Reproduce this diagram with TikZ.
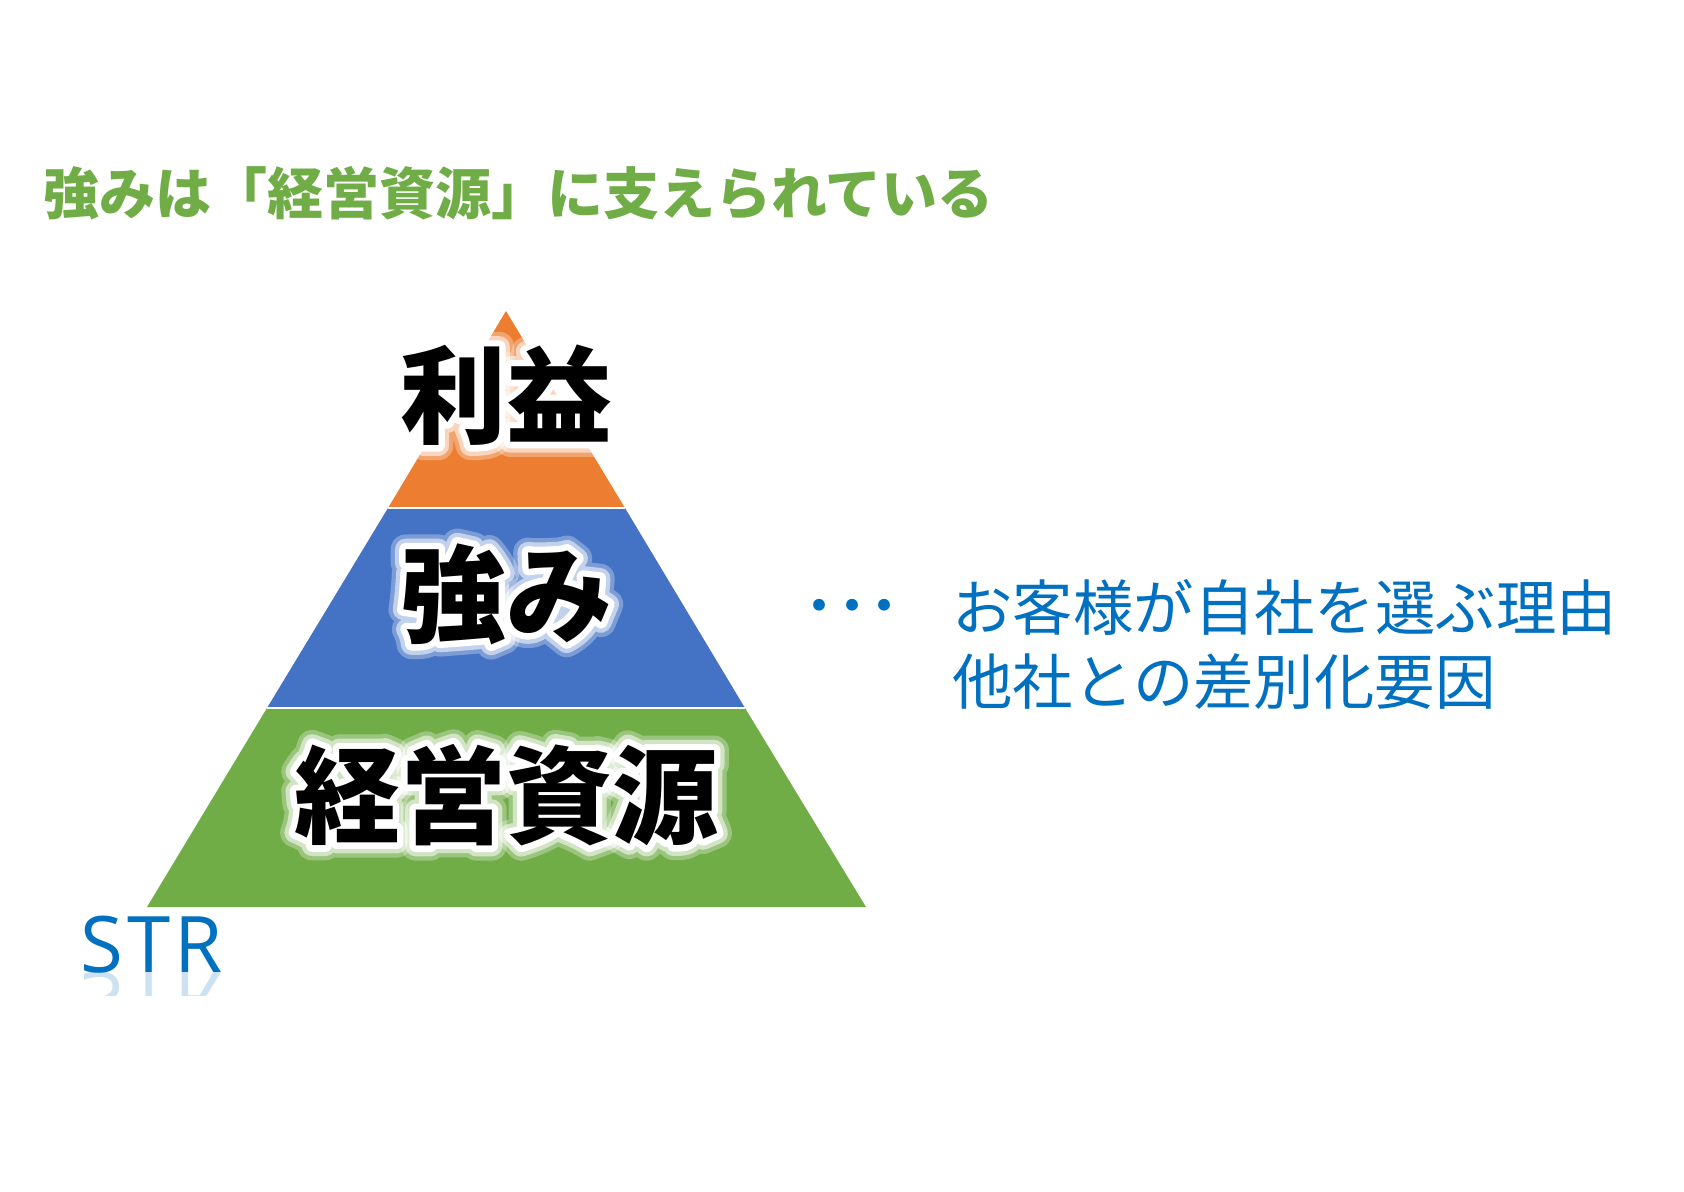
\documentclass[tikz,border=0pt]{standalone}
\usepackage{fontspec}
\newfontfamily\jp{Noto Sans CJK JP}
\newfontfamily\glowin[FakeBold=12]{Noto Sans CJK JP}
\newfontfamily\glowmid[FakeBold=20]{Noto Sans CJK JP}
\newfontfamily\glowout[FakeBold=28]{Noto Sans CJK JP}
\newfontfamily\dotfont[LetterSpace=-42]{Noto Sans CJK JP}
\newfontfamily\strfont[LetterSpace=5]{Open Sans}
\definecolor{cOrange}{HTML}{ED7D31}
\definecolor{cBlue}{HTML}{4472C4}
\definecolor{cGreen}{HTML}{70AD47}
\definecolor{cText}{HTML}{0070C0}
\tikzset{
  band/.style={draw=white, line width=1.2},
  lab/.style={font=\jp\bfseries\fontsize{53}{60}\selectfont, text=black, inner sep=0},
  glowbase/.style={inner sep=0, text=white, line join=round, line cap=round},
  glowA/.style={glowbase, font=\glowout\bfseries\fontsize{53}{60}\selectfont, text opacity=0.3},
  glowM/.style={glowbase, font=\glowmid\bfseries\fontsize{53}{60}\selectfont, text opacity=0.55},
  glowB/.style={glowbase, font=\glowin\bfseries\fontsize{53}{60}\selectfont},
  title/.style={font=\jp\bfseries\fontsize{28}{32}\selectfont, text=cGreen, inner sep=0, anchor=west},
  desc/.style={font=\jp\fontsize{30.2}{34}\selectfont, text=cText, inner sep=0, anchor=west},
  strstyle/.style={font=\strfont\fontsize{39}{44}\selectfont, text=cText, inner sep=0, anchor=base west},
}
\begin{document}
\begin{tikzpicture}[x=0.5pt, y=-0.5pt]
\useasboundingbox[fill=white] (0,0) rectangle (1684,1191);
% pyramid
\coordinate (apex) at (506,311);
\coordinate (oL) at (388,508); \coordinate (oR) at (625,508);
\coordinate (bL) at (267,708); \coordinate (bR) at (745,708);
\coordinate (gL) at (147,907); \coordinate (gR) at (866,907);
\fill[cOrange] (apex) -- (oR) -- (oL) -- cycle;
\fill[cBlue] (oL) -- (oR) -- (bR) -- (bL) -- cycle;
\fill[cGreen] (bL) -- (bR) -- (gR) -- (gL) -- cycle;
\draw[band] (oL) -- (oR);
\draw[band] (bL) -- (bR);
% labels with white glow
\foreach \txt/\yy/\nm in {利益/395/l1, 強み/594/l2, 経営資源/795/l3}{
  \node[glowA] at (506,\yy) {\txt};
  \node[glowM] at (506,\yy) {\txt};
  \node[glowB] at (506,\yy) {\txt};
  \node[lab] (\nm) at (506,\yy) {\txt};
}
% title
\node[title] (t) at (43,193) {強みは「経営資源」に支えられている};
% description
\node[font=\dotfont\fontsize{28}{30}\selectfont, text=cText, inner sep=0] (dots) at (852,613) {・・・};
\node[desc] (d1) at (952,607) {お客様が自社を選ぶ理由};
\node[desc] (d2) at (952,682) {他社との差別化要因};
% STR
\node[strstyle] (str) at (80,972) {STR};
\begin{scope}
\clip (70,972) rectangle (240,995);
\node[strstyle, text opacity=0.2, yscale=-1] (strr) at (80,972) {STR};
\end{scope}
\end{tikzpicture}
\end{document}
